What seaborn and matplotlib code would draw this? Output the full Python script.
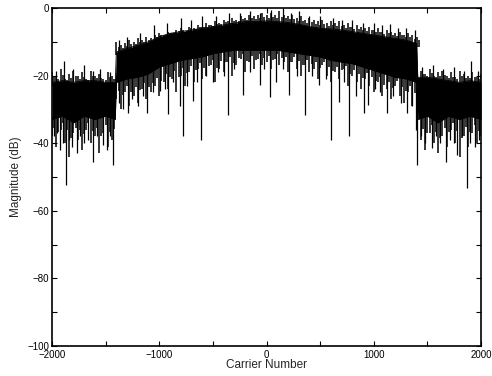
import numpy as np
import pandas as pd
import seaborn as sns
import matplotlib
matplotlib.use("Agg")
import matplotlib.pyplot as plt

# dense part of the spectrum: upper / lower edge of the solid black band (dB)
band_carrier = [-2000, -1900, -1800, -1700, -1600, -1500, -1410, -1400, -1300, -1200,
                -1100, -1000, -900, -800, -700, -600, -500, -400, -300, -200, -100,
                0, 100, 200, 300, 400, 500, 600, 700, 800, 900, 1000, 1100, 1200,
                1300, 1400, 1410, 1500, 1600, 1700, 1800, 1900, 2000]
band_top = [-22, -21.5, -22, -21.5, -21.5, -22, -22, -13, -12, -11,
            -10, -8.5, -7.5, -7, -6.5, -6, -5.5, -5, -4.5, -4, -4,
            -3.8, -4, -4.3, -4.8, -5.5, -6, -6.2, -6.5, -7, -7.5, -8, -8.5, -9,
            -9.5, -10.5, -20.5, -20.5, -21, -21.5, -22, -21.5, -22]
band_bottom = [-33, -32, -34, -32, -33, -32, -33, -22, -21, -20.5,
               -19.5, -17.5, -16.5, -15.5, -15, -14.5, -13.5, -13, -12.5, -12.5, -12.5,
               -12.5, -12.5, -13, -13.5, -14, -14.5, -15.5, -16, -16.5, -17.5, -18.5, -19.5, -20.5,
               -21, -22, -33, -32, -34, -32, -33, -32, -33]

# ragged fringe read every 40 carriers from -2000 to 2000 (dB)
fringe_low = [-38, -41, -36, -40, -44, -37, -39, -42, -36, -40, -38, -43, -37, -41, -39,
              -27, -30, -25, -29, -26, -28, -24, -27, -25, -23, -26, -22, -24, -21, -25,
              -20, -23, -19, -22, -18, -21, -20, -17, -22, -18, -19, -16, -20, -17, -15,
              -19, -16, -18, -15, -17,
              -16,
              -18, -15, -17, -16, -19, -16, -18, -20, -17, -19, -18, -21, -17, -20, -22,
              -19, -21, -18, -23, -20, -22, -24, -21, -23, -25, -22, -26, -24, -27, -23,
              -26, -28, -25, -29, -27,
              -39, -42, -37, -40, -43, -38, -41, -36, -40, -44, -38, -41, -37, -40, -38]
fringe_high = [-19, -20.5, -18, -21, -19.5, -18.5, -20, -19, -21, -18.5, -20, -19.5, -21, -19, -20,
               -10, -11, -10.5, -9.5, -10, -9, -9.5, -8.5, -9, -8, -7.5, -8, -7, -7.5, -6.5,
               -6, -7, -5.5, -6, -5, -5.5, -4.5, -5, -4, -4.5, -3.5, -4, -3, -3.5, -2.5,
               -3, -2, -2.5, -2, -1.5,
               -2,
               -1.5, -2, -1, -2, -2.5, -2, -3, -2.5, -3.5, -3, -3.5, -4, -3.5, -4.5, -4,
               -4.5, -4, -5, -4.5, -5.5, -5, -5.5, -6, -5.5, -6.5, -6, -7, -6.5, -7, -7.5,
               -7, -8, -7.5, -8, -8.5,
               -18.5, -19.5, -18, -20, -19, -18.5, -20, -19, -20.5, -18.5, -19.5, -20, -19, -20.5, -19.5]
fringe_carrier = list(range(-2000, 2001, 40))

# deep fades reaching below the band (carrier, dB)
dip_carrier = [-1980, -1950, -1925, -1900, -1870, -1840, -1810, -1767, -1740, -1700,
               -1660, -1620, -1580, -1525, -1490, -1460, -1430,
               -1380, -1340, -1290, -1250, -1200, -1150, -1115, -1060, -993, -950,
               -918, -870, -806, -779, -740, -685, -650, -611, -560, -499, -450,
               -400, -359, -300, -219, -150, -61, -20, 28, 90, 150, 210, 280, 360,
               420, 490, 550, 600, 676, 720, 770, 830, 910, 950, 1010, 1060, 1122,
               1180, 1250, 1310, 1360, 1393,
               1403, 1440, 1480, 1543, 1580, 1620, 1672, 1710, 1750, 1778, 1820,
               1870, 1900, 1940, 1980]
dip_db = [-38, -37, -42, -40, -52.5, -39, -41, -43, -38, -40,
          -39, -45.5, -38, -40.5, -42, -38, -46.5,
          -28, -30, -31, -27, -29, -26, -31, -25, -24.5, -24,
          -31.4, -22, -29, -38, -23, -27.6, -22, -39, -20, -21.8, -19,
          -20, -31.7, -18, -25.8, -19, -22.7, -18, -26.3, -22, -18, -25.7, -20, -31.7,
          -20, -22.8, -21, -39, -27.7, -22, -38, -26, -31, -28.7, -24, -25, -31,
          -26, -28, -31, -29, -36,
          -46.4, -38, -40, -41.5, -38, -40, -45.5, -39, -40, -43.5, -38,
          -53.4, -40, -41, -39]

# peaks poking above the band (carrier, dB)
peak_carrier = [-1960, -1890, -1800, -1700, -1620, -1550, -1460, -1380, -1300, -1180,
                -1050, -930, -800, -700, -600, -470, -350, -250, -150, -60, 40,
                150, 230, 300, 400, 500, 620, 700, 800, 900, 1000, 1080, 1150, 1230,
                1300, 1380, 1450, 1550, 1650, 1750, 1840, 1906, 1970]
peak_db = [-18.5, -15.8, -18, -17, -18.5, -18, -19, -9.5, -8.5, -7.5,
           -5, -4.5, -3, -3.5, -2.5, -2.5, -1.5, -1.5, -1, -1.5, -0.5,
           0, -1.5, -1, -2.5, -2.5, -3, -3.5, -3.5, -4.5, -4.5, -5, -4.8, -6,
           -6, -6.5, -17.5, -17, -18, -17.5, -18.5, -15.8, -18.5]

band = pd.DataFrame({"carrier": band_carrier, "top": band_top, "bottom": band_bottom})
fringe = pd.DataFrame({"carrier": fringe_carrier, "low": fringe_low, "high": fringe_high})
dips = pd.DataFrame({"carrier": dip_carrier, "db": dip_db})
peaks = pd.DataFrame({"carrier": peak_carrier, "db": peak_db})

sns.set_style("ticks")
plt.rcParams["font.family"] = ["Liberation Sans", "DejaVu Sans"]
plt.rcParams["axes.unicode_minus"] = True

fig = plt.figure(figsize=(4.92, 3.76), dpi=100)
ax = fig.add_axes([0.1057, 0.0798, 0.872, 0.899])

ax.fill_between(band["carrier"], band["bottom"], band["top"], color="black", lw=0)
sns.lineplot(data=band, x="carrier", y="top", color="black", lw=0.6, ax=ax, sort=False)
sns.lineplot(data=band, x="carrier", y="bottom", color="black", lw=0.6, ax=ax, sort=False)

# ragged edges, fades and peaks hang off the band
lo = np.interp(fringe["carrier"], band["carrier"], band["bottom"])
hi = np.interp(fringe["carrier"], band["carrier"], band["top"])
ax.vlines(fringe["carrier"], fringe["low"], lo + 1, color="black", lw=1.1)
ax.vlines(fringe["carrier"] + 20, (fringe["low"] + lo) / 2, lo + 1, color="black", lw=1.1)
ax.vlines(fringe["carrier"], hi - 1, fringe["high"], color="black", lw=1.1)
ax.vlines(fringe["carrier"] + 20, hi - 1, (fringe["high"] + hi) / 2, color="black", lw=1.1)

dip_start = np.interp(dips["carrier"], band["carrier"], band["bottom"])
ax.vlines(dips["carrier"], dips["db"], dip_start + 2, color="black", lw=0.9)
peak_start = np.interp(peaks["carrier"], band["carrier"], band["top"])
ax.vlines(peaks["carrier"], peak_start - 1, peaks["db"], color="black", lw=0.9)

ax.set_xlim(-2000, 2000)
ax.set_ylim(-100, 0)
xt = np.arange(-2000, 2001, 500)
ax.set_xticks(xt)
ax.set_xticklabels([f"{v:d}".replace("-", "\u2212") if v % 1000 == 0 else "" for v in xt])
yt = np.arange(-100, 1, 10)
ax.set_yticks(yt)
ax.set_yticklabels([f"{v:d}".replace("-", "\u2212") if v % 20 == 0 else "" for v in yt])
ax.tick_params(direction="in", top=True, right=True, length=3.5, width=0.8,
               labelsize=7, color="black", labelcolor="black")
ax.tick_params(axis="x", pad=3)
ax.tick_params(axis="y", pad=2)
for s in ax.spines.values():
    s.set_visible(True)
    s.set_linewidth(1.2)
    s.set_color("black")

ax.set_xlabel("Carrier Number", fontsize=8.5, labelpad=-1)
ax.set_ylabel("Magnitude (dB)", fontsize=8.5, labelpad=4)

fig.savefig("out.png", dpi=100, facecolor="white")
